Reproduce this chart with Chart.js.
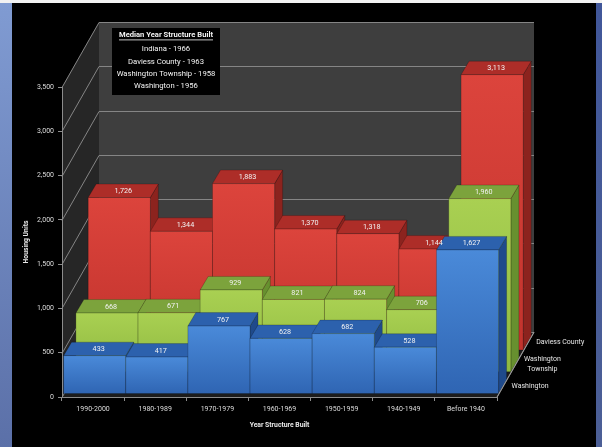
<!DOCTYPE html>
<html>
<head>
<meta charset="utf-8">
<script src="https://cdn.jsdelivr.net/npm/chart.js"></script>
<style>
  body { margin: 0; background: #000; }
  #wrap { position: relative; width: 602px; height: 447px; overflow: hidden; background: #000; }
  #chart { position: absolute; left: 0; top: 0; }
  .strip { position: absolute; }
</style>
</head>
<body>
<div id="wrap">
  <div class="strip" style="left:0;top:0;width:602px;height:3px;background:#f2f2f2"></div>
  <div class="strip" style="left:0;top:3px;width:12px;height:444px;background:linear-gradient(#809bd2,#5b70a8)"></div>
  <div class="strip" style="left:596px;top:3px;width:6px;height:444px;background:linear-gradient(#41579a,#4c5f96)"></div>
  <canvas id="chart" width="602" height="447"></canvas>
</div>
<script>
const categories = ['1990-2000', '1980-1989', '1970-1979', '1960-1969', '1950-1959', '1940-1949', 'Before 1940'];

const washington = [433, 417, 767, 628, 682, 528, 1627];
const washingtonTownship = [668, 671, 929, 821, 824, 706, 1960];
const daviessCounty = [1726, 1344, 1883, 1370, 1318, 1144, 3113];

const seriesNames = ['Washington', 'Washington Township', 'Daviess County'];
const depthLabels = [['Washington'], ['Washington', 'Township'], ['Daviess County']];

const yMax = 3500;
const yStep = 500;

const medianTitle = 'Median Year Structure Built';
const medianPlaces = ['Indiana', 'Daviess County', 'Washington Township', 'Washington'];
const medianYears = [1966, 1963, 1958, 1956];

// oblique projection: where the back wall sits, where each row starts, how deep a bar is
const WALL_DX = 37, WALL_DY = -65;
const ROW0_DX = 1.6, ROW0_DY = -3;
const ROW_DX = 12.3, ROW_DY = -21.8;
const BOX_DX = 8, BOX_DY = -13.5;

const faceColors = [
  { front: ['#4a8ad9', '#2f65b3'], top: '#2c61ad', side: '#1f4a8b' },
  { front: ['#a9d052', '#8fb940'], top: '#7ca33c', side: '#67902f' },
  { front: ['#dc443c', '#c2332d'], top: '#ad2d28', side: '#8c231e' },
];

const FONT = 'Roboto, "Liberation Sans", sans-serif';

function poly(ctx, pts, fill, stroke) {
  ctx.beginPath();
  ctx.moveTo(pts[0][0], pts[0][1]);
  for (let i = 1; i < pts.length; i++) ctx.lineTo(pts[i][0], pts[i][1]);
  ctx.closePath();
  ctx.fillStyle = fill;
  ctx.fill();
  if (stroke) {
    ctx.strokeStyle = stroke;
    ctx.lineWidth = 0.8;
    ctx.stroke();
  }
}

function drawBox(ctx, bar, ox, oy, c) {
  const l = bar.x - bar.width / 2 + ox;
  const r = bar.x + bar.width / 2 + ox;
  const t = bar.y + oy;
  const b = bar.base + oy;
  const edge = 'rgba(0,0,0,0.25)';

  poly(ctx, [[r, t], [r + BOX_DX, t + BOX_DY], [r + BOX_DX, b + BOX_DY], [r, b]], c.side, edge);
  poly(ctx, [[l, t], [l + BOX_DX, t + BOX_DY], [r + BOX_DX, t + BOX_DY], [r, t]], c.top, edge);

  const g = ctx.createLinearGradient(0, t, 0, b);
  g.addColorStop(0, c.front[0]);
  g.addColorStop(1, c.front[1]);
  poly(ctx, [[l, t], [r, t], [r, b], [l, b]], g, edge);
}

const box3d = {
  id: 'box3d',
  beforeDraw(chart) {
    const { ctx } = chart;
    const xs = chart.scales.x, ys = chart.scales.y;
    const L = xs.left, R = xs.right, T = ys.top, B = ys.bottom;

    ctx.save();
    // walls and floor
    poly(ctx, [[L, T], [L + WALL_DX, T + WALL_DY], [L + WALL_DX, B + WALL_DY], [L, B]], '#262626');
    poly(ctx, [[L + WALL_DX, T + WALL_DY], [R + WALL_DX, T + WALL_DY], [R + WALL_DX, B + WALL_DY], [L + WALL_DX, B + WALL_DY]], '#3e3e3e');
    poly(ctx, [[L, B], [R, B], [R + WALL_DX, B + WALL_DY], [L + WALL_DX, B + WALL_DY]], '#1c1c1c');

    // gridlines run across the side wall and along the back wall
    ctx.strokeStyle = '#858585';
    ctx.lineWidth = 1;
    ys.ticks.forEach(tk => {
      const p = Math.round(ys.getPixelForValue(tk.value)) + 0.5;
      ctx.beginPath();
      ctx.moveTo(L, p);
      ctx.lineTo(L + WALL_DX, p + WALL_DY);
      ctx.lineTo(R + WALL_DX, p + WALL_DY);
      if (tk.value === 0) ctx.lineTo(R, p);
      ctx.stroke();
    });
    ctx.restore();
  },
  beforeDatasetDraw() {
    return false;
  },
  afterDatasetsDraw(chart) {
    const { ctx } = chart;
    const n = chart.data.datasets.length;
    ctx.save();
    // back row first so the front rows cover it
    for (let d = n - 1; d >= 0; d--) {
      const meta = chart.getDatasetMeta(d);
      const ox = ROW0_DX + ROW_DX * d, oy = ROW0_DY + ROW_DY * d;
      meta.data.forEach(bar => drawBox(ctx, bar, ox, oy, faceColors[d]));
    }

    ctx.font = '7.2px ' + FONT;
    ctx.fillStyle = '#f2f2f2';
    ctx.textAlign = 'center';
    ctx.textBaseline = 'middle';
    for (let d = n - 1; d >= 0; d--) {
      const meta = chart.getDatasetMeta(d);
      const vals = chart.data.datasets[d].data;
      const ox = ROW0_DX + ROW_DX * d, oy = ROW0_DY + ROW_DY * d;
      meta.data.forEach((bar, i) => {
        ctx.fillText(vals[i].toLocaleString('en-US'), bar.x + ox + BOX_DX / 2, bar.y + oy + BOX_DY / 2 + 0.5);
      });
    }
    ctx.restore();
  },
  afterDraw(chart) {
    const { ctx } = chart;
    const xs = chart.scales.x, ys = chart.scales.y;
    const R = xs.right, B = ys.bottom;
    ctx.save();

    // depth axis along the right edge of the floor
    ctx.strokeStyle = '#9a9a9a';
    ctx.lineWidth = 1;
    ctx.beginPath();
    ctx.moveTo(R, B);
    ctx.lineTo(R + WALL_DX, B + WALL_DY);
    ctx.stroke();

    ctx.font = '7px ' + FONT;
    ctx.fillStyle = '#e6e6e6';
    ctx.textBaseline = 'middle';
    ctx.textAlign = 'center';
    depthLabels.forEach((lines, d) => {
      const px = R + ROW0_DX + ROW_DX * d + BOX_DX / 2 + 9;
      const py = B + ROW0_DY + ROW_DY * d + BOX_DY / 2 - 1;
      const w = Math.max(...lines.map(s => ctx.measureText(s).width));
      lines.forEach((s, k) => {
        ctx.fillText(s, px + w / 2, py + (k - (lines.length - 1) / 2) * 10.5);
      });
    });

    // median year box
    const bx = 112, by = 28, bw = 108, bh = 67;
    ctx.fillStyle = '#000';
    ctx.fillRect(bx, by, bw, bh);
    ctx.fillStyle = '#f4f4f4';
    ctx.textAlign = 'center';
    ctx.font = 'bold 7.6px ' + FONT;
    const cx = bx + bw / 2;
    ctx.fillText(medianTitle, cx, by + 7.5);
    const tw = ctx.measureText(medianTitle).width;
    ctx.fillRect(cx - tw / 2, by + 11.5, tw, 0.8);
    ctx.font = '7.7px ' + FONT;
    medianPlaces.forEach((p, i) => {
      ctx.fillText(p + ' - ' + medianYears[i], cx, by + 21.5 + i * 12.3);
    });
    ctx.restore();
  }
};

const tickFont = { family: FONT, size: 7 };
const titleFont = { family: FONT, size: 6.8, weight: 'bold' };

new Chart(document.getElementById('chart'), {
  type: 'bar',
  data: {
    labels: categories,
    datasets: [
      { label: seriesNames[0], data: washington, backgroundColor: faceColors[0].front[0] },
      { label: seriesNames[1], data: washingtonTownship, backgroundColor: faceColors[1].front[0] },
      { label: seriesNames[2], data: daviessCounty, backgroundColor: faceColors[2].front[0] },
    ]
  },
  options: {
    responsive: false,
    animation: false,
    layout: { padding: { left: 12, top: 87, right: 105, bottom: 15 } },
    datasets: { bar: { grouped: false, categoryPercentage: 1, barPercentage: 1 } },
    plugins: {
      legend: { display: false },
      tooltip: { enabled: false },
    },
    scales: {
      x: {
        z: 1,
        grid: { drawOnChartArea: false, tickLength: 4, color: '#8c8c8c' },
        border: { color: '#8c8c8c' },
        ticks: { color: '#dcdcdc', font: tickFont, padding: 4, maxRotation: 0 },
        title: { display: true, text: 'Year Structure Built', color: '#e8e8e8', font: titleFont, padding: { top: 0, bottom: 3 } },
        afterFit: s => { s.height = 35; },
      },
      y: {
        min: 0,
        max: yMax,
        ticks: { stepSize: yStep, color: '#dcdcdc', font: tickFont, padding: 4 },
        grid: { drawOnChartArea: false, tickLength: 4, color: '#8c8c8c' },
        border: { color: '#8c8c8c' },
        title: { display: true, text: 'Housing Units', color: '#e8e8e8', font: titleFont, padding: { top: 10, bottom: 0 } },
        afterFit: s => { s.width = 50; },
      }
    }
  },
  plugins: [box3d]
});
</script>
</body>
</html>
